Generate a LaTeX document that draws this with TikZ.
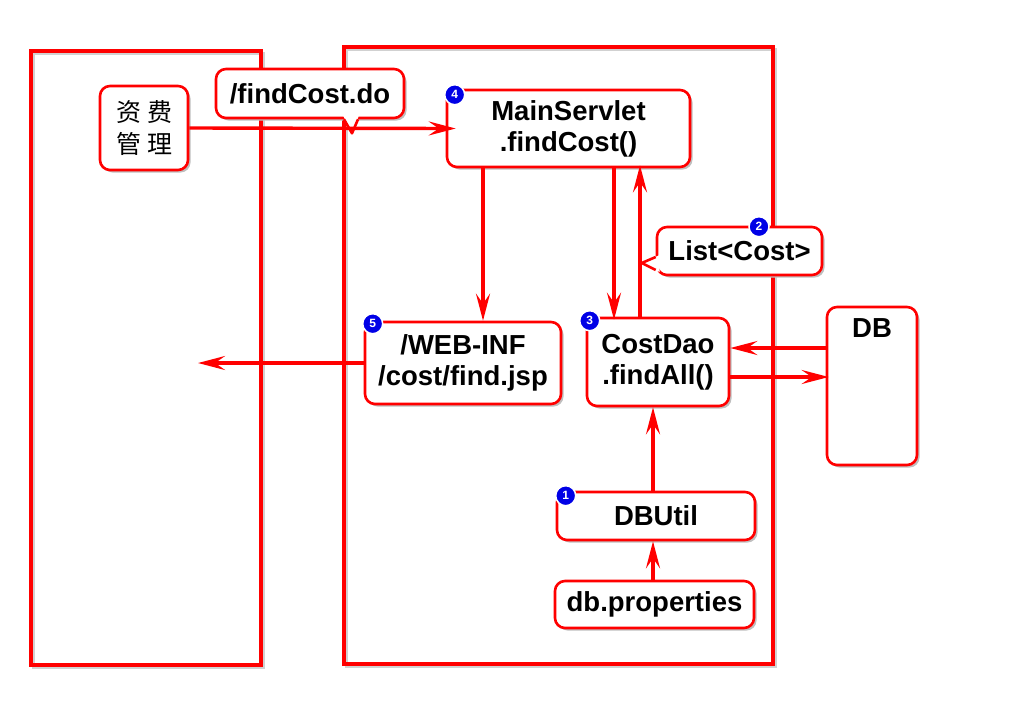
\documentclass[tikz,border=0pt]{standalone}
\usepackage{fontspec}
\setmainfont{Liberation Sans}
\newfontfamily\cjk{Noto Sans CJK SC}
\usetikzlibrary{arrows.meta,shadows,calc}
\definecolor{rd}{RGB}{255,0,0}
\definecolor{bd}{RGB}{0,0,230}
\begin{document}
\begin{tikzpicture}[x=1pt,y=-1pt,
 box/.style={draw=rd, line width=2.6pt, fill=white, rounded corners=10pt,
   general shadow={fill=black!25, shadow xshift=2.5pt, shadow yshift=-2.5pt},
   font=\fontsize{27.5}{31}\selectfont\bfseries, align=center, inner sep=0pt},
 frame/.style={draw=rd, line width=3.2pt},
 fshadow/.style={draw=black!18, line width=3pt},
 arr/.style={draw=rd, line width=3.4pt, -{Stealth[length=27pt,width=14pt,inset=10pt]}},
 ptr/.style={draw=rd, line width=2.6pt, line join=round},
 badge/.style={circle, fill=bd, draw=white, line width=1.5pt, minimum size=20pt,
   inner sep=0pt, text=white, font=\fontsize{12}{12}\selectfont\bfseries}
]
\fill[white] (0,0) rectangle (1024,721);
\useasboundingbox (0,0) rectangle (1024,721);
% frames
\draw[fshadow] (33.5,53.5) rectangle (263.5,667.5);
\draw[fshadow] (346.5,49.5) rectangle (775.5,666.5);
\draw[frame] (31,51) rectangle (261,665);
\draw[frame] (344,47) rectangle (773,664);
% nodes
\node[box, minimum width=88, minimum height=84, font=\cjk\fontsize{25}{32}\selectfont] (zf) at (144,128) {资\hspace{6pt}费\\管\hspace{6pt}理};
\node[box, minimum width=188, minimum height=49] (fc) at (310,93.5) {/findCost.do};
\node[box, minimum width=243, minimum height=77] (ms) at (568.5,128.5) {MainServlet\\.findCost()};
\node[box, minimum width=165, minimum height=48] (lc) at (739.5,251) {List<Cost>};
\node[box, minimum width=196, minimum height=82] (web) at (463,363) {/WEB-INF\\/cost/find.jsp};
\node[box, minimum width=142, minimum height=88] (cd) at (658,362) {CostDao\\.findAll()};
\node[box, minimum width=90, minimum height=158,
  label={[font=\fontsize{27.5}{31}\selectfont\bfseries, anchor=north, yshift=-9pt]north:DB}] (db) at (872,386) {};
\node[box, minimum width=198, minimum height=48] (du) at (656,516) {DBUtil};
\node[box, minimum width=199, minimum height=47] (dp) at (654.5,604.5) {db.properties};
% callout pointers
\fill[white] ($(fc.south)+(33,-4)$) -- ($(fc.south)+(42,14)$) -- ($(fc.south)+(49,-4)$) -- cycle;
\draw[ptr] ($(fc.south)+(34,0)$) -- ($(fc.south)+(42,14)$) -- ($(fc.south)+(48,0)$);
\fill[white] ($(lc.west)+(4,4)$) -- ($(lc.west)+(-14,12)$) -- ($(lc.west)+(4,21)$) -- cycle;
\draw[ptr] ($(lc.west)+(0,6)$) -- ($(lc.west)+(-14,12)$) -- ($(lc.west)+(0,19)$);
% connectors
\coordinate (outl) at (198,363);
\draw[arr] (zf.east) -- ($(ms.west)+(10,0)$);
\draw[arr] ($(ms.south)+(-85.5,0)$) -- ($(web.north)+(20,0)$);
\draw[arr] ($(ms.south)+(45.5,0)$) -- ($(cd.north)+(-44,3)$);
\draw[arr] ($(cd.north)+(-18,0)$) -- ($(ms.south)+(71.5,-3)$);
\draw[arr] ($(db.west)+(0,-38)$) -- ($(cd.east)+(0,-14)$);
\draw[arr] ($(cd.east)+(0,15)$) -- ($(db.west)+(3,-9)$);
\draw[arr] ($(du.north)+(-3,0)$) -- ($(cd.south)+(-5,0)$);
\draw[arr] ($(dp.north)+(-1.5,0)$) -- ($(du.south)+(-3,0)$);
\draw[arr] (web.west) -- (outl);
% badges
\node[badge] (b4) at ($(ms.north west)+(9,6)$) {4};
\node[badge] (b2) at ($(lc.north)+(19.5,1)$) {2};
\node[badge] (b5) at ($(web.north west)+(9,3)$) {5};
\node[badge] (b3) at ($(cd.north west)+(4,4)$) {3};
\node[badge] (b1) at ($(du.north west)+(10,5)$) {1};
\end{tikzpicture}
\end{document}
